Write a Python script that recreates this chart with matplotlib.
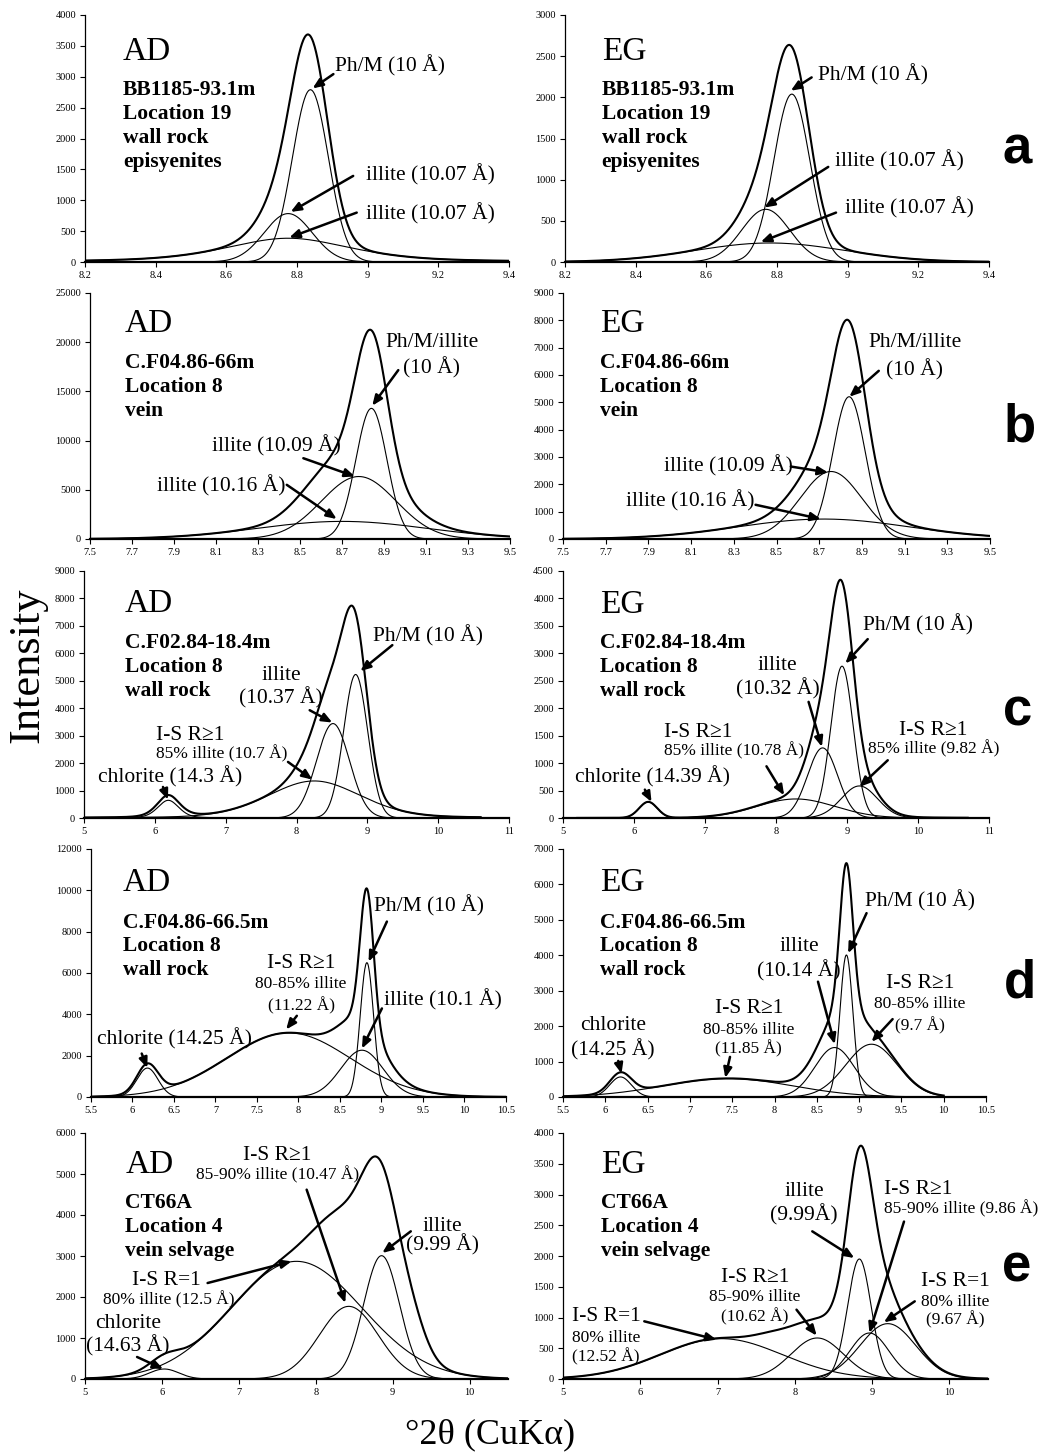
import numpy as np
import matplotlib
matplotlib.use('Agg')
import matplotlib.pyplot as plt
from matplotlib.ticker import FuncFormatter

plt.rcParams['font.family'] = ['Liberation Serif', 'DejaVu Serif']

# fitted peaks: (position °2θ, height, fwhm, lorentz fraction)
a_ad_peaks = [(8.838, 2790, 0.12, 0), (8.775, 784, 0.16, 0), (8.775, 385, 0.42, 0.5)]
a_ad_extra = []
a_eg_peaks = [(8.842, 2039, 0.12, 0), (8.768, 640, 0.16, 0), (8.78, 231, 0.5, 0)]
a_eg_extra = []

b_ad_peaks = [(8.84, 13275, 0.175, 0), (8.78, 6350, 0.42, 0), (8.70, 1790, 0.95, 0)]
b_ad_extra = [(8.6, 1500, 0.3, 0)]
b_eg_peaks = [(8.84, 5205, 0.18, 0), (8.755, 2470, 0.34, 0), (8.72, 730, 0.95, 0)]
b_eg_extra = []

c_ad_peaks = [(6.19, 645, 0.35, 0.3), (8.25, 1350, 1.55, 0.2), (8.515, 3441, 0.55, 0),
              (8.835, 5229, 0.4, 0)]
c_ad_extra = [(6.2, 150, 0.5, 0), (8.1, 400, 0.5, 0)]
c_eg_peaks = [(6.2, 292, 0.3, 0), (8.28, 347, 1.3, 0), (8.656, 1277, 0.5, 0),
              (8.93, 2766, 0.37, 0), (9.174, 584, 0.6, 0)]
c_eg_extra = [(8.9, 450, 0.5, 0.5)]

d_ad_peaks = [(6.18, 1400, 0.3, 0), (7.88, 3105, 1.75, 0), (8.764, 2264, 0.6, 0),
              (8.824, 6500, 0.19, 0)]
d_ad_extra = []
d_eg_peaks = [(6.18, 566, 0.3, 0), (7.45, 519, 1.8, 0), (8.71, 1396, 0.55, 0),
              (8.85, 4009, 0.18, 0), (9.147, 1490, 0.72, 0)]
d_eg_extra = [(8.85, 400, 0.5, 0.5)]

e_ad_peaks = [(6.03, 244, 0.45, 0), (7.75, 2870, 2.0, 0), (8.43, 1772, 0.9, 0),
              (8.856, 3008, 0.55, 0)]
e_ad_extra = [(9.25, 700, 0.45, 0)]
e_eg_peaks = [(7.05, 656, 1.85, 0), (8.29, 667, 0.8, 0), (8.835, 1951, 0.36, 0),
              (8.965, 748, 0.6, 0), (9.204, 900, 0.85, 0)]
e_eg_extra = [(8.85, 400, 0.6, 0.5), (7.7, 150, 0.6, 0)]

a_xticks = [8.2, 8.4, 8.6, 8.8, 9.0, 9.2, 9.4]
b_xticks = [7.5, 7.7, 7.9, 8.1, 8.3, 8.5, 8.7, 8.9, 9.1, 9.3, 9.5]
c_xticks = [5, 6, 7, 8, 9, 10, 11]
d_xticks = [5.5, 6, 6.5, 7, 7.5, 8, 8.5, 9, 9.5, 10, 10.5]
e_xticks = [5, 6, 7, 8, 9, 10]


def pv(x, x0, h, w, eta):
    d = (x - x0) / w
    g = np.exp(-4 * np.log(2) * d**2)
    l = 1 / (1 + 4 * d**2)
    return h * (eta * l + (1 - eta) * g)


W, H = 1043, 1452
fig = plt.figure(figsize=(W / 100, H / 100), dpi=100)


def panel(box, peaks, extra, xr, xlim, xticks, ymax, ystep):
    l, r, t, b = box
    ax = fig.add_axes([l / W, 1 - b / H, (r - l) / W, (b - t) / H])
    x = np.linspace(xr[0], xr[1], 900)
    total = np.zeros_like(x)
    for p in peaks:
        y = pv(x, *p)
        total += y
        ax.plot(x, y, color='k', lw=0.8)
    for p in extra:
        total += pv(x, *p)
    ax.plot(x, total, color='k', lw=1.5)
    ax.set_xlim(*xlim)
    ax.set_ylim(0, ymax)
    ax.set_xticks(xticks)
    ax.set_yticks(np.arange(0, ymax + 1, ystep))
    ax.xaxis.set_major_formatter(FuncFormatter(lambda v, p: f'{v:g}'))
    ax.yaxis.set_major_formatter(FuncFormatter(lambda v, p: f'{v:g}'))
    for s in ['top', 'right']:
        ax.spines[s].set_visible(False)
    ax.spines['left'].set_linewidth(0.9)
    ax.spines['bottom'].set_linewidth(1.6)
    ax.tick_params(direction='out', length=3.5, width=0.8, labelsize=7.5, pad=3)
    return ax


def txt(ax, x, y, s, size=15.5, ha='left'):
    ax.text(x, y, s, fontsize=size, ha=ha, va='baseline')


def block(ax, x, y, head, lines):
    ax.text(x, y[0], head, fontsize=24, va='baseline')
    for i, s in enumerate(lines):
        ax.annotate(s, (x, y[1]), xytext=(0, -i * 17.2), textcoords='offset points',
                    fontsize=15.5, fontweight='bold', va='baseline')


def arrow(ax, tail, head):
    ax.annotate('', xy=head, xytext=tail,
                arrowprops=dict(arrowstyle='-|>,head_length=0.6,head_width=0.25',
                                lw=1.8, color='k', shrinkA=0, shrinkB=0))


# ---------------- row a ----------------
ax = panel((85, 509, 15, 262), a_ad_peaks, a_ad_extra, (8.2, 9.4), (8.2, 9.4), a_xticks, 4000, 500)
block(ax, 8.307, (3270, 2702), 'AD', ['BB1185-93.1m', 'Location 19', 'wall rock', 'episyenites'])
txt(ax, 8.908, 3092, 'Ph/M (10 Å)')
arrow(ax, (8.903, 3043), (8.844, 2811))
txt(ax, 8.995, 1324, 'illite (10.07 Å)')
arrow(ax, (8.959, 1394), (8.782, 811))
txt(ax, 8.995, 692, 'illite (10.07 Å)')
arrow(ax, (8.969, 800), (8.778, 395))

ax = panel((565, 989, 15, 262), a_eg_peaks, a_eg_extra, (8.2, 9.4), (8.2, 9.4), a_xticks, 3000, 500)
block(ax, 8.304, (2453, 2027), 'EG', ['BB1185-93.1m', 'Location 19', 'wall rock', 'episyenites'])
txt(ax, 8.917, 2209, 'Ph/M (10 Å)')
arrow(ax, (8.898, 2242), (8.839, 2080))
txt(ax, 8.964, 1155, 'illite (10.07 Å)')
arrow(ax, (8.945, 1155), (8.764, 661))
txt(ax, 8.992, 588, 'illite (10.07 Å)')
arrow(ax, (8.967, 600), (8.754, 243))

# ---------------- row b ----------------
ax = panel((90, 510, 293, 539), b_ad_peaks, b_ad_extra, (7.5, 9.5), (7.5, 9.5), b_xticks, 25000, 5000)
block(ax, 7.667, (21045, 17397), 'AD', ['C.F04.86-66m', 'Location 8', 'vein'])
txt(ax, 9.127, 19525, 'Ph/M/illite', ha='center')
txt(ax, 9.127, 16822, '(10 Å)', ha='center')
arrow(ax, (8.968, 17160), (8.844, 13546))
txt(ax, 8.079, 8884, 'illite (10.09 Å)')
arrow(ax, (8.516, 8209), (8.762, 6351))
txt(ax, 7.817, 4831, 'illite (10.16 Å)')
arrow(ax, (8.437, 5506), (8.675, 2027))

ax = panel((563, 990, 293, 539), b_eg_peaks, b_eg_extra, (7.5, 9.5), (7.5, 9.5), b_xticks, 9000, 1000)
block(ax, 7.673, (7576, 6262), 'EG', ['C.F04.86-66m', 'Location 8', 'vein'])
txt(ax, 9.147, 7028, 'Ph/M/illite', ha='center')
txt(ax, 9.147, 6000, '(10 Å)', ha='center')
arrow(ax, (8.979, 6153), (8.841, 5204))
txt(ax, 7.971, 2468, 'illite (10.09 Å)')
arrow(ax, (8.567, 2651), (8.742, 2432))
txt(ax, 7.793, 1192, 'illite (10.16 Å)')
arrow(ax, (8.402, 1252), (8.708, 730))

# ---------------- row c ----------------
ax = panel((84, 509, 571, 818), c_ad_peaks, c_ad_extra, (5.0, 10.6), (5, 11), c_xticks, 9000, 1000)
block(ax, 5.574, (7515, 6202), 'AD', ['C.F02.84-18.4m', 'Location 8', 'wall rock'])
txt(ax, 9.08, 6420, 'Ph/M (10 Å)')
arrow(ax, (9.353, 6299), (8.901, 5350))
txt(ax, 7.786, 5046, 'illite', ha='center')
txt(ax, 7.786, 4171, '(10.37 Å)', ha='center')
arrow(ax, (8.186, 3928), (8.506, 3478))
txt(ax, 6.012, 2833, 'I-S R≥1')
txt(ax, 6.012, 2164, '85% illite (10.7 Å)', size=12.5)
arrow(ax, (7.88, 2043), (8.224, 1398))
txt(ax, 5.198, 1277, 'chlorite (14.3 Å)')
arrow(ax, (6.115, 1131), (6.186, 669))

ax = panel((563, 989, 571, 818), c_eg_peaks, c_eg_extra, (5.2, 10.7), (5, 11), c_xticks, 4500, 500)
block(ax, 5.527, (3727, 3101), 'EG', ['C.F02.84-18.4m', 'Location 8', 'wall rock'])
txt(ax, 9.231, 3423, 'Ph/M (10 Å)')
arrow(ax, (9.292, 3259), (8.976, 2815))
txt(ax, 8.02, 2693, 'illite', ha='center')
txt(ax, 8.02, 2256, '(10.32 Å)', ha='center')
arrow(ax, (8.459, 2116), (8.647, 1295))
txt(ax, 6.421, 1477, 'I-S R≥1')
txt(ax, 6.421, 1143, '85% illite (10.78 Å)', size=12.5)
arrow(ax, (7.866, 942), (8.115, 413))
txt(ax, 9.739, 1508, 'I-S R≥1')
txt(ax, 9.292, 1173, '85% illite (9.82 Å)', size=12.5)
arrow(ax, (9.574, 1052), (9.174, 565))
txt(ax, 5.174, 638, 'chlorite (14.39 Å)')
arrow(ax, (6.153, 517), (6.247, 292))

# ---------------- row d ----------------
ax = panel((91, 506, 849, 1097), d_ad_peaks, d_ad_extra, (5.5, 10.5), (5.5, 10.5), d_xticks, 12000, 2000)
block(ax, 5.882, (9945, 8198), 'AD', ['C.F04.86-66.5m', 'Location 8', 'wall rock'])
txt(ax, 8.904, 8974, 'Ph/M (10 Å)')
arrow(ax, (9.065, 8489), (8.844, 6549))
txt(ax, 8.032, 6225, 'I-S R≥1', ha='center')
txt(ax, 8.032, 5255, '80-85% illite', size=12.5, ha='center')
txt(ax, 8.032, 4204, '(11.22 Å)', size=12.5, ha='center')
arrow(ax, (7.98, 3929), (7.851, 3266))
txt(ax, 9.025, 4414, 'illite (10.1 Å)')
arrow(ax, (9.005, 4285), (8.764, 2345))
txt(ax, 5.576, 2555, 'chlorite (14.25 Å)')
arrow(ax, (6.111, 2102), (6.179, 1407))

ax = panel((563, 986, 849, 1097), d_eg_peaks, d_eg_extra, (5.5, 10.0), (5.5, 10.5), d_xticks, 7000, 1000)
block(ax, 5.943, (5802, 4783), 'EG', ['C.F04.86-66.5m', 'Location 8', 'wall rock'])
txt(ax, 9.068, 5377, 'Ph/M (10 Å)')
arrow(ax, (9.088, 5189), (8.87, 4057))
txt(ax, 8.289, 4123, 'illite', ha='center')
txt(ax, 8.289, 3396, '(10.14 Å)', ha='center')
arrow(ax, (8.514, 3255), (8.712, 1491))
txt(ax, 7.695, 2377, 'I-S R≥1', ha='center')
txt(ax, 7.695, 1792, '80-85% illite', size=12.5, ha='center')
txt(ax, 7.695, 1226, '(11.85 Å)', size=12.5, ha='center')
arrow(ax, (7.474, 1132), (7.418, 538))
txt(ax, 9.721, 3066, 'I-S R≥1', ha='center')
txt(ax, 9.721, 2500, '80-85% illite', size=12.5, ha='center')
txt(ax, 9.721, 1887, '(9.7 Å)', size=12.5, ha='center')
arrow(ax, (9.396, 2198), (9.147, 1557))
txt(ax, 6.089, 1887, 'chlorite', ha='center')
txt(ax, 6.089, 1179, '(14.25 Å)', ha='center')
arrow(ax, (6.153, 1019), (6.192, 660))

# ---------------- row e ----------------
ax = panel((85, 508, 1133, 1379), e_ad_peaks, e_ad_extra, (5.0, 10.5), (5, 10.5), e_xticks, 6000, 1000)
block(ax, 5.524, (5024, 4171), 'AD', ['CT66A', 'Location 4', 'vein selvage'])
txt(ax, 7.498, 5350, 'I-S R≥1', ha='center')
txt(ax, 7.498, 4862, '85-90% illite (10.47 Å)', size=12.5, ha='center')
arrow(ax, (7.882, 4618), (8.384, 1854))
txt(ax, 9.651, 3602, 'illite', ha='center')
txt(ax, 9.651, 3140, '(9.99 Å)', ha='center')
arrow(ax, (9.236, 3602), (8.865, 3073))
txt(ax, 5.611, 2301, 'I-S R=1')
txt(ax, 5.231, 1813, '80% illite (12.5 Å)', size=12.5)
arrow(ax, (6.594, 2341), (7.686, 2870))
txt(ax, 5.555, 1244, 'chlorite', ha='center')
txt(ax, 5.555, 675, '(14.63 Å)', ha='center')
arrow(ax, (5.677, 537), (6.017, 244))

ax = panel((563, 988, 1133, 1379), e_eg_peaks, e_eg_extra, (5.0, 10.5), (5, 10.5), e_xticks, 4000, 500)
block(ax, 5.487, (3350, 2780), 'EG', ['CT66A', 'Location 4', 'vein selvage'])
txt(ax, 8.117, 2980, 'illite', ha='center')
txt(ax, 8.117, 2580, '(9.99Å)', ha='center')
arrow(ax, (8.226, 2401), (8.77, 1967))
txt(ax, 9.596, 3010, 'I-S R≥1', ha='center')
txt(ax, 9.152, 2700, '85-90% illite (9.86 Å)', size=12.5)
arrow(ax, (9.413, 2560), (8.965, 748))
txt(ax, 7.487, 1572, 'I-S R≥1', ha='center')
txt(ax, 7.487, 1263, '85-90% illite', size=12.5, ha='center')
txt(ax, 7.487, 938, '(10.62 Å)', size=12.5, ha='center')
arrow(ax, (8.022, 1127), (8.283, 705))
txt(ax, 5.117, 938, 'I-S R=1')
txt(ax, 5.117, 596, '80% illite', size=12.5)
txt(ax, 5.117, 287, '(12.52 Å)', size=12.5)
arrow(ax, (6.052, 938), (6.987, 640))
txt(ax, 10.074, 1507, 'I-S R=1', ha='center')
txt(ax, 10.074, 1182, '80% illite', size=12.5, ha='center')
txt(ax, 10.074, 883, '(9.67 Å)', size=12.5, ha='center')
arrow(ax, (9.552, 1263), (9.152, 921))

# panel letters and shared axis titles
for letter, xp, yp in [('a', 1017, 163), ('b', 1020, 442), ('c', 1018, 725),
                       ('d', 1020, 997), ('e', 1017, 1282)]:
    fig.text(xp / W, 1 - yp / H, letter, fontsize=38, fontweight='bold',
             family=['Liberation Sans', 'DejaVu Sans'], ha='center', va='baseline')

fig.text(27 / W, 1 - 665 / H, 'Intensity', rotation=90, fontsize=32, ha='center', va='center')
fig.text(490 / W, 1 - 1435 / H, '°2θ (CuKα)', fontsize=26, ha='center', va='center')

fig.savefig('out.png', dpi=100)
